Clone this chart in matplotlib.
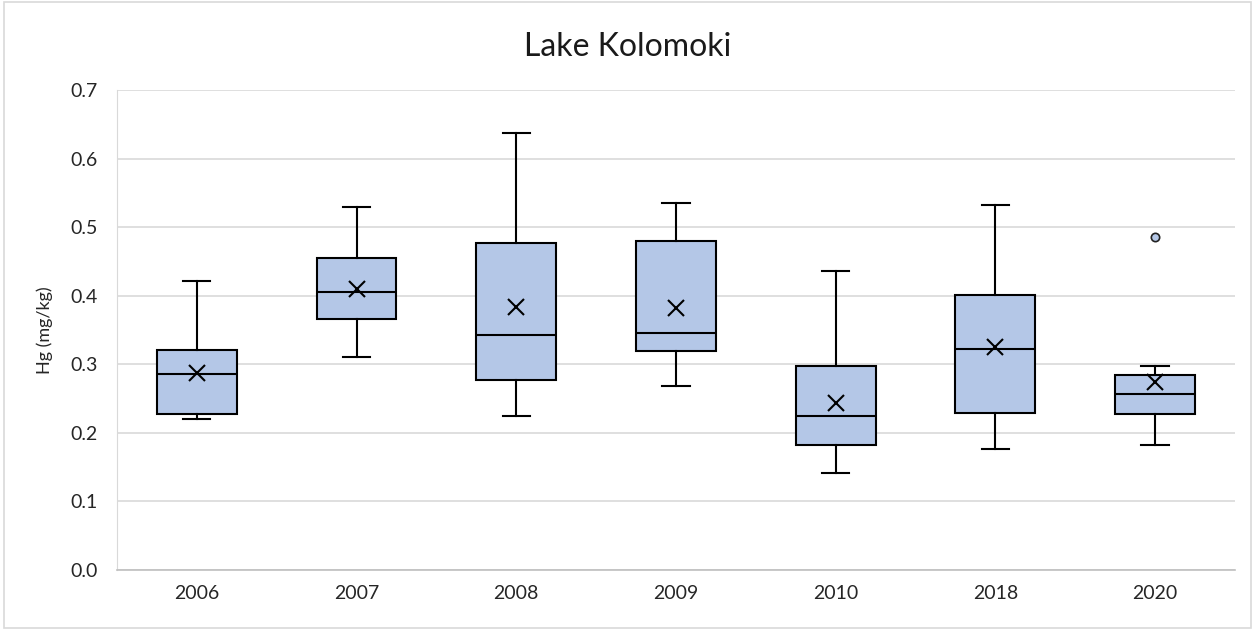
import matplotlib
matplotlib.use("Agg")
import matplotlib.pyplot as plt
from matplotlib.patches import Rectangle

plt.rcParams['font.family'] = ['Lato', 'DejaVu Sans']

# 数据
years = ["2006", "2007", "2008", "2009", "2010", "2018", "2020"]
whis_lo = [0.221, 0.311, 0.225, 0.268, 0.141, 0.176, 0.183]
q1 = [0.227, 0.366, 0.277, 0.319, 0.183, 0.229, 0.227]
median = [0.286, 0.405, 0.343, 0.346, 0.224, 0.322, 0.257]
q3 = [0.321, 0.455, 0.477, 0.480, 0.298, 0.401, 0.284]
whis_hi = [0.421, 0.530, 0.638, 0.535, 0.436, 0.532, 0.298]
mean = [0.287, 0.410, 0.383, 0.382, 0.243, 0.326, 0.274]
outliers = [[], [], [], [], [], [], [0.486]]

stats = []
for i, y in enumerate(years):
    stats.append(dict(label=y, whislo=whis_lo[i], q1=q1[i], med=median[i],
                      q3=q3[i], whishi=whis_hi[i], mean=mean[i], fliers=outliers[i]))

fig = plt.figure(figsize=(12.55, 6.3), dpi=100)
ax = fig.add_axes([0.0932, 0.0952, 0.8908, 0.7618])

ax.bxp(stats, positions=range(len(years)), widths=0.5, patch_artist=True,
       showmeans=True,
       boxprops=dict(facecolor='#b4c7e7', edgecolor='black', linewidth=1.5),
       medianprops=dict(color='black', linewidth=1.5),
       whiskerprops=dict(color='black', linewidth=1.5),
       capprops=dict(color='black', linewidth=1.5),
       capwidths=0.17,
       meanprops=dict(marker='x', markeredgecolor='black', markersize=12, markeredgewidth=1.5),
       flierprops=dict(marker='o', markerfacecolor='#b4c7e7', markeredgecolor='#222222',
                       markersize=6, markeredgewidth=1.2))

ax.set_xlim(-0.5, len(years) - 0.5)
ax.set_ylim(0, 0.7)
ax.set_yticks([0.0, 0.1, 0.2, 0.3, 0.4, 0.5, 0.6, 0.7])
ax.set_yticklabels(["0.0", "0.1", "0.2", "0.3", "0.4", "0.5", "0.6", "0.7"])
ax.tick_params(length=0, labelsize=14, colors='#262626', pad=14)
ax.tick_params(axis='x', pad=11)
ax.yaxis.grid(True, color='#d9d9d9', linewidth=1.2)
ax.set_axisbelow(True)
for s in ['top', 'right']:
    ax.spines[s].set_visible(False)
ax.spines['left'].set_color('#d9d9d9')
ax.spines['bottom'].set_color('#bfbfbf')
ax.spines['bottom'].set_linewidth(1.2)

ax.set_ylabel("Hg (mg/kg)", fontsize=13, color='#262626', labelpad=12)
fig.suptitle("Lake Kolomoki", fontsize=23, color='#1a1a1a', y=0.95)

# 外框
fig.patches.append(Rectangle((0.003, 0.003), 0.994, 0.994, transform=fig.transFigure,
                             fill=False, edgecolor='#d9d9d9', linewidth=1.2))

fig.savefig("out.png", dpi=100)
